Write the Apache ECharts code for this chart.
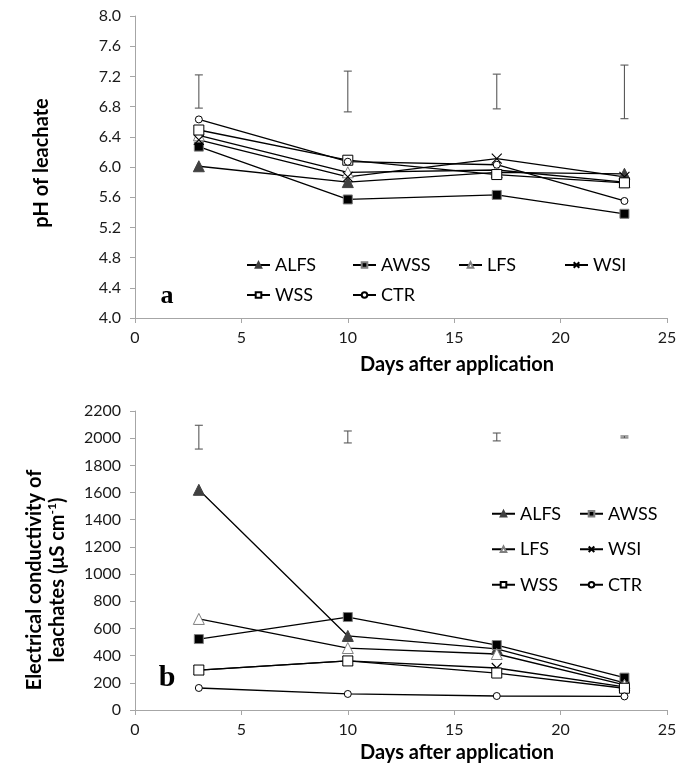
<!DOCTYPE html>
<html><head><meta charset="utf-8">
<script src="https://cdn.jsdelivr.net/npm/echarts@6/dist/echarts.min.js"></script>
<style>html,body{margin:0;padding:0;background:#fff}#c{width:694px;height:768px}</style>
</head><body><div id="c"></div>
<script>
// ---- data ----
const days = [3, 10, 17, 23];
const seriesNames = ['ALFS', 'AWSS', 'LFS', 'WSI', 'WSS', 'CTR'];
// pH of leachate (panel a)
const phALFS = [6.01, 5.80, 5.93, 5.91];
const phAWSS = [6.27, 5.57, 5.63, 5.38];
const phLFS  = [6.42, 5.93, 5.96, 5.80];
const phWSI  = [6.36, 5.87, 6.11, 5.87];
const phWSS  = [6.49, 6.09, 5.90, 5.79];
const phCTR  = [6.63, 6.07, 6.03, 5.55];
const phErrLow  = [6.78, 6.73, 6.77, 6.64];
const phErrHigh = [7.22, 7.27, 7.23, 7.35];
// Electrical conductivity (panel b)
const ecALFS = [1620, 545, 449, 200];
const ecAWSS = [522, 684, 478, 238];
const ecLFS  = [670, 456, 412, 185];
const ecWSI  = [294, 361, 309, 170];
const ecWSS  = [294, 361, 272, 160];
const ecCTR  = [162, 118, 103, 100];
const ecErrLow  = [1920, 1965, 1980, 2002];
const ecErrHigh = [2095, 2053, 2038, 2016];
// ticks
const xTicks = {min: 0, max: 25, interval: 5};
const phTicks = {min: 4.0, max: 8.0, interval: 0.4};
const ecTicks = {min: 0, max: 2200, interval: 200};

// ---- styles ----
const FONT = 'Lato';
const xPath = 'path://M0,0L10,10M10,0L0,10';
const styles = {
  ALFS: {symbol: 'triangle', size: 11, itemStyle: {color: '#404040', borderColor: '#404040', borderWidth: 1}},
  AWSS: {symbol: 'rect', size: 9, itemStyle: {color: '#000', borderColor: '#7f7f7f', borderWidth: 1}},
  LFS:  {symbol: 'triangle', size: 11, itemStyle: {color: '#fff', borderColor: '#7f7f7f', borderWidth: 1}},
  WSI:  {symbol: xPath, size: 10, itemStyle: {color: '#000', borderColor: '#000', borderWidth: 1.1}},
  WSS:  {symbol: 'rect', size: 10, itemStyle: {color: '#fff', borderColor: '#000', borderWidth: 1}},
  CTR:  {symbol: 'circle', size: 7, itemStyle: {color: '#fff', borderColor: '#000', borderWidth: 1}}
};
const phData = {ALFS: phALFS, AWSS: phAWSS, LFS: phLFS, WSI: phWSI, WSS: phWSS, CTR: phCTR};
const ecData = {ALFS: ecALFS, AWSS: ecAWSS, LFS: ecLFS, WSI: ecWSI, WSS: ecWSS, CTR: ecCTR};

function lineSeries(name, vals, idx) {
  const s = styles[name];
  return {
    name: name, type: 'line', xAxisIndex: idx, yAxisIndex: idx,
    data: days.map((d, i) => [d, vals[i]]),
    symbol: s.symbol, symbolSize: s.size, showAllSymbol: true,
    itemStyle: s.itemStyle,
    lineStyle: {color: '#000', width: 1.3},
    z: 3, animation: false
  };
}
function errSeries(low, high, idx) {
  return {
    type: 'custom', xAxisIndex: idx, yAxisIndex: idx, animation: false, silent: true,
    data: days.map((d, i) => [d, low[i], high[i]]),
    renderItem: function (params, api) {
      const p1 = api.coord([api.value(0), api.value(1)]);
      const p2 = api.coord([api.value(0), api.value(2)]);
      const w = 4;
      const st = {stroke: '#595959', lineWidth: 1.1};
      return {type: 'group', children: [
        {type: 'line', shape: {x1: p1[0], y1: p1[1], x2: p2[0], y2: p2[1]}, style: st},
        {type: 'line', shape: {x1: p1[0] - w, y1: p1[1], x2: p1[0] + w, y2: p1[1]}, style: st},
        {type: 'line', shape: {x1: p2[0] - w, y1: p2[1], x2: p2[0] + w, y2: p2[1]}, style: st}
      ]};
    }
  };
}
const axisCommon = {
  axisLine: {show: true, lineStyle: {color: '#a6a6a6', width: 1}},
  axisTick: {show: true, inside: false, length: 5, lineStyle: {color: '#a6a6a6'}},
  splitLine: {show: false},
  axisLabel: {color: '#1a1a1a', fontFamily: FONT, fontSize: 16}
};
function xAx(idx) {
  return Object.assign({}, axisCommon, {type: 'value', gridIndex: idx, min: xTicks.min, max: xTicks.max, interval: xTicks.interval,
    axisLabel: Object.assign({}, axisCommon.axisLabel, {margin: 12})});
}
const legendText = (w, lh) => ({color: '#000', fontFamily: FONT, fontSize: 18, width: w, lineHeight: lh, overflow: 'none'});

const option = {
  backgroundColor: '#fff',
  animation: false,
  grid: [
    {left: 135, right: 27, top: 16, height: 302},
    {left: 135, right: 27, top: 411, height: 299}
  ],
  xAxis: [xAx(0), xAx(1)],
  yAxis: [
    Object.assign({}, axisCommon, {type: 'value', gridIndex: 0, min: phTicks.min, max: phTicks.max, interval: phTicks.interval,
      axisLabel: Object.assign({}, axisCommon.axisLabel, {margin: 14, formatter: v => v.toFixed(1)})}),
    Object.assign({}, axisCommon, {type: 'value', gridIndex: 1, min: ecTicks.min, max: ecTicks.max, interval: ecTicks.interval,
      axisLabel: Object.assign({}, axisCommon.axisLabel, {margin: 14, formatter: v => String(Math.round(v))})})
  ],
  legend: [
    {data: seriesNames, left: 241, top: 250, width: 420, orient: 'horizontal',
     itemWidth: 23, itemHeight: 7, itemGap: 10, textStyle: legendText(67, 20), selectedMode: false},
    {data: seriesNames, left: 486, top: 496, width: 170, orient: 'horizontal',
     itemWidth: 23, itemHeight: 7, itemGap: 10, textStyle: legendText(49, 25.5), selectedMode: false}
  ],
  graphic: [
    {type: 'text', x: 42, y: 163, rotation: Math.PI / 2,
     style: {text: 'pH of leachate', fontFamily: FONT, fontSize: 20, fontWeight: 'bold', fill: '#000', textAlign: 'center', textVerticalAlign: 'middle'}},
    {type: 'text', x: 46, y: 580, rotation: Math.PI / 2,
     style: {text: 'Electrical conductivity of\nleachates (μS cm{sup|-1})', fontFamily: FONT, fontSize: 20, fontWeight: 'bold', fill: '#000',
       lineHeight: 23, textAlign: 'center', textVerticalAlign: 'middle',
       rich: {sup: {fontFamily: FONT, fontSize: 12, fontWeight: 'bold', fill: '#000', verticalAlign: 'top', lineHeight: 23, padding: [0, 0, 8, 0]}}}},
    {type: 'text', x: 457, y: 365,
     style: {text: 'Days after application', fontFamily: FONT, fontSize: 20, fontWeight: 'bold', fill: '#000', textAlign: 'center', textVerticalAlign: 'middle'}},
    {type: 'text', x: 457, y: 753,
     style: {text: 'Days after application', fontFamily: FONT, fontSize: 20, fontWeight: 'bold', fill: '#000', textAlign: 'center', textVerticalAlign: 'middle'}},
    {type: 'text', x: 167, y: 296,
     style: {text: 'a', fontFamily: 'Liberation Serif', fontSize: 26, fontWeight: 'bold', fill: '#000', textAlign: 'center', textVerticalAlign: 'middle'}},
    {type: 'text', x: 167, y: 678,
     style: {text: 'b', fontFamily: 'Liberation Serif', fontSize: 30, fontWeight: 'bold', fill: '#000', textAlign: 'center', textVerticalAlign: 'middle'}}
  ],
  series: [].concat(
    [errSeries(phErrLow, phErrHigh, 0), errSeries(ecErrLow, ecErrHigh, 1)],
    seriesNames.map(n => lineSeries(n, phData[n], 0)),
    seriesNames.map(n => lineSeries(n, ecData[n], 1))
  )
};
const chart = echarts.init(document.getElementById('c'), null, {renderer: 'canvas'});
chart.setOption(option);
</script></body></html>
